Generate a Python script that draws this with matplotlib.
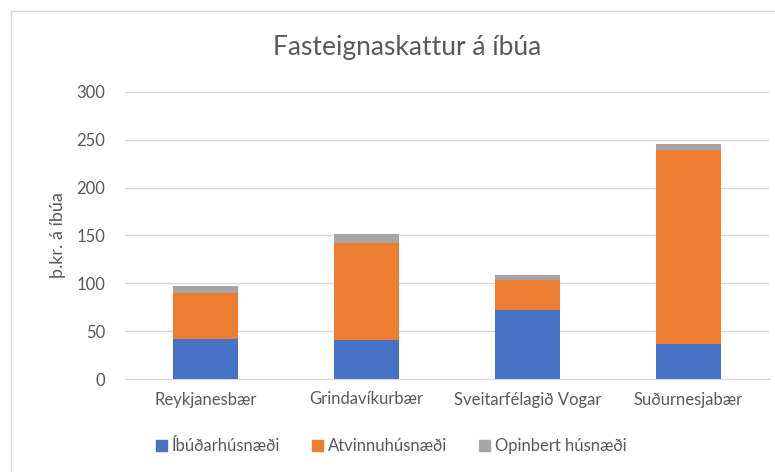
import matplotlib
matplotlib.use("Agg")
import matplotlib.pyplot as plt
import numpy as np
from matplotlib.lines import Line2D

plt.rcParams['font.family'] = ['Lato', 'DejaVu Sans']

# gögn
sveitarfelog = ['Reykjanesbær', 'Grindavíkurbær', 'Sveitarfélagið Vogar', 'Suðurnesjabær']
ibudarhusnaedi = [42, 40.5, 72, 37]
atvinnuhusnaedi = [48, 101.5, 31, 202]
opinbert = [7, 9.5, 6, 7]
flokkar = ['Íbúðarhúsnæði', 'Atvinnuhúsnæði', 'Opinbert húsnæði']
litir = ['#4472c4', '#ed7d31', '#a5a5a5']
grar = '#595959'

fig = plt.figure(figsize=(7.75, 4.72), dpi=100)
ax = fig.add_axes([125/775, 1-379/472, 644/775, 287/472])

x = np.arange(len(sveitarfelog))
botn = np.zeros(len(x))
for gildi, nafn, litur in zip([ibudarhusnaedi, atvinnuhusnaedi, opinbert], flokkar, litir):
    ax.bar(x, gildi, width=0.4, bottom=botn, color=litur, label=nafn, zorder=3)
    botn = botn + np.array(gildi)

ax.set_xlim(-0.5, 3.5)
ax.set_ylim(0, 300)
ax.set_yticks(np.arange(0, 301, 50))
ax.yaxis.grid(True, color='#d9d9d9', linewidth=1, zorder=0)
for s in ['top', 'right', 'left']:
    ax.spines[s].set_visible(False)
ax.spines['bottom'].set_color('#d9d9d9')
ax.tick_params(axis='both', length=0, colors=grar, labelsize=12)
ax.tick_params(axis='y', pad=14)
ax.tick_params(axis='x', pad=9)
ax.set_xticks(x)
ax.set_xticklabels(sveitarfelog)
ax.set_ylabel('þ.kr. á íbúa', color=grar, fontsize=13, labelpad=8)

fig.text(0.525, 1-47/472, 'Fasteignaskattur á íbúa', ha='center', va='center',
         fontsize=19, color=grar)

handles = [plt.Rectangle((0, 0), 1, 1, color=c) for c in litir]
fig.legend(handles, flokkar, loc='center', bbox_to_anchor=(0.505, 1-446/472), ncol=3,
           frameon=False, fontsize=12, labelcolor=grar, handlelength=0.65,
           handleheight=0.65, handletextpad=0.3, columnspacing=1.9)

# rammi utan um myndina
fig.add_artist(Line2D([11/775, 11/775], [0, 1-11/472], color='#d9d9d9', linewidth=1))
fig.add_artist(Line2D([11/775, 1], [1-11/472, 1-11/472], color='#d9d9d9', linewidth=1))

fig.savefig('out.png', dpi=100)
